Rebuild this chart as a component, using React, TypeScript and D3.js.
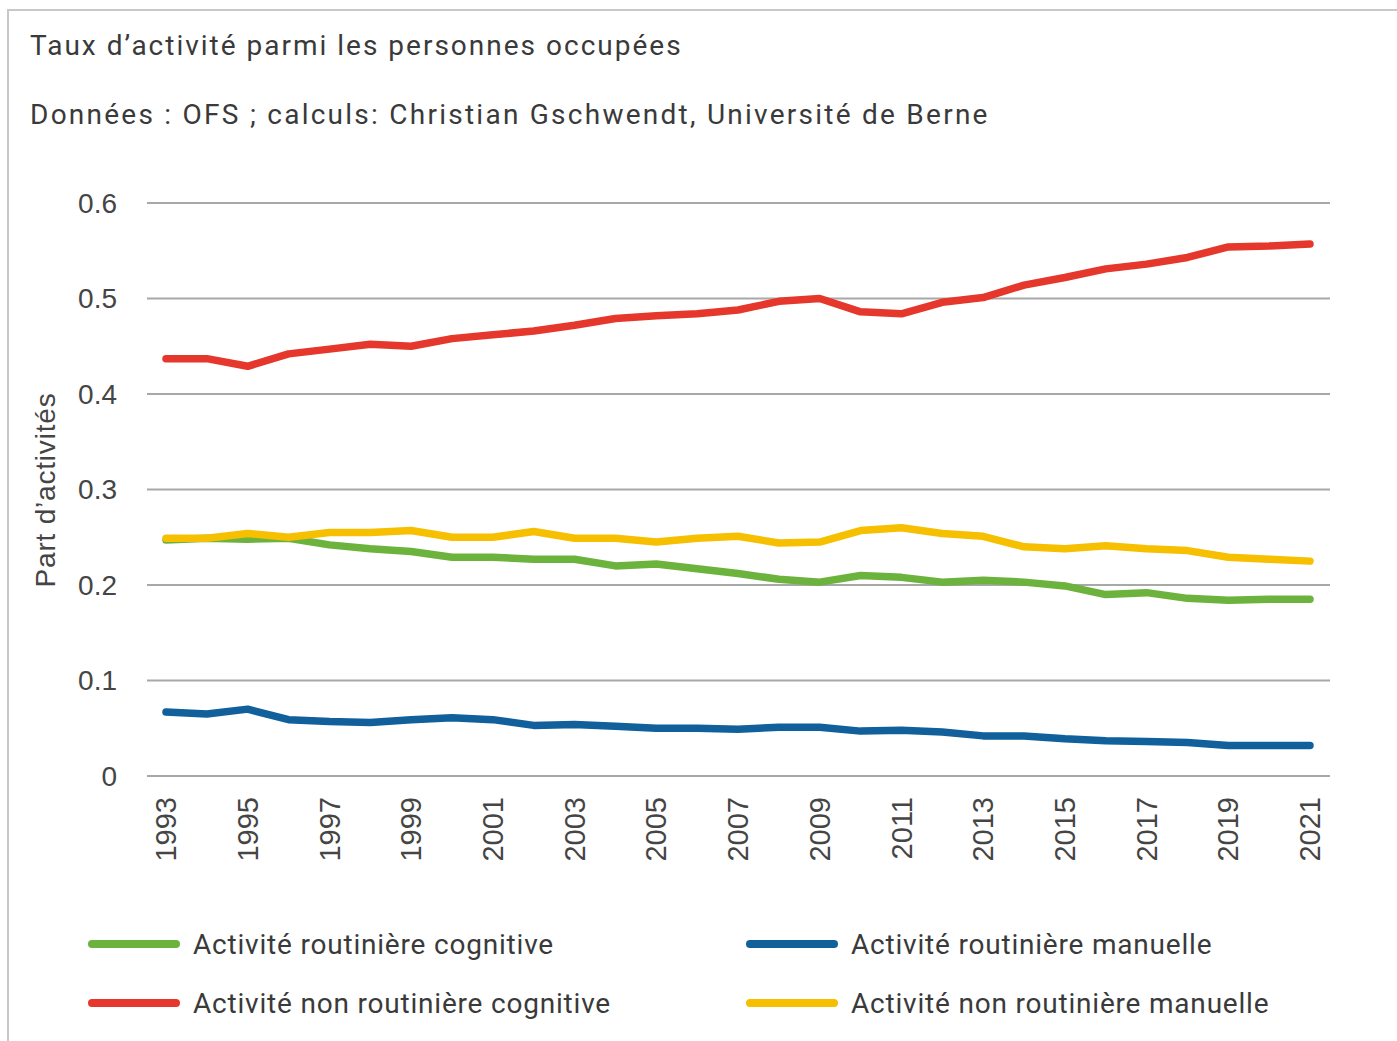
import React from "react";
import * as d3 from "d3";

const years: number[] = d3.range(1993, 2022);
const tickYears: number[] = d3.range(1993, 2022, 2);
const yTicks: number[] = [0, 0.1, 0.2, 0.3, 0.4, 0.5, 0.6];

const routCognitive: number[] = [0.247,0.249,0.248,0.249,0.242,0.238,0.235,0.229,0.229,0.227,0.227,0.220,0.222,0.217,0.212,0.206,0.203,0.210,0.208,0.203,0.205,0.203,0.199,0.190,0.192,0.186,0.184,0.185,0.185];
const routManuelle: number[] = [0.067,0.065,0.070,0.059,0.057,0.056,0.059,0.061,0.059,0.053,0.054,0.052,0.050,0.050,0.049,0.051,0.051,0.047,0.048,0.046,0.042,0.042,0.039,0.037,0.036,0.035,0.032,0.032,0.032];
const nonRoutCognitive: number[] = [0.437,0.437,0.429,0.442,0.447,0.452,0.450,0.458,0.462,0.466,0.472,0.479,0.482,0.484,0.488,0.497,0.500,0.486,0.484,0.496,0.501,0.514,0.522,0.531,0.536,0.543,0.554,0.555,0.557];
const nonRoutManuelle: number[] = [0.249,0.249,0.254,0.250,0.255,0.255,0.257,0.250,0.250,0.256,0.249,0.249,0.245,0.249,0.251,0.244,0.245,0.257,0.260,0.254,0.251,0.240,0.238,0.241,0.238,0.236,0.229,0.227,0.225];

const seriesNames: string[] = [
  "Activité routinière cognitive",
  "Activité routinière manuelle",
  "Activité non routinière cognitive",
  "Activité non routinière manuelle",
];
const seriesColors: string[] = ["#6cb33e", "#115f9b", "#e5372b", "#f6bf00"];
const seriesValues: number[][] = [routCognitive, routManuelle, nonRoutCognitive, nonRoutManuelle];

const title = "Taux d\u2019activité parmi les personnes occupées";
const subtitle = "Données : OFS ; calculs: Christian Gschwendt, Université de Berne";
const yTitle = "Part d\u2019activités";

const W = 1397;
const H = 1041;
const textFont = "Roboto, 'Liberation Sans', sans-serif";
const axisFont = "'Liberation Sans', Arial, sans-serif";

export default function App() {
  const x = d3.scaleLinear().domain([1993, 2021]).range([166, 1310]);
  const y = d3.scaleLinear().domain([0, 0.6]).range([776, 203]);
  const line = d3
    .line<number>()
    .x((_, i) => x(years[i]))
    .y((v) => y(v));

  const legendPos = [
    { lx: 92, ly: 944 },
    { lx: 750, ly: 944 },
    { lx: 92, ly: 1003 },
    { lx: 750, ly: 1003 },
  ];

  return (
    <svg
      width={W}
      height={H}
      style={{ position: "absolute", left: 0, top: 0, background: "#fff" }}
    >
      <rect x={8} y={10} width={W + 20} height={H + 20} fill="#fff" stroke="#c8c8c8" strokeWidth={2} />
      <text x={30} y={55} fontFamily={textFont} fontSize={28} fill="#3a3a3a" letterSpacing={2.0}>
        {title}
      </text>
      <text x={30} y={124} fontFamily={textFont} fontSize={28} fill="#3a3a3a" letterSpacing={2.25}>
        {subtitle}
      </text>

      {yTicks.map((t) => (
        <g key={t}>
          <line x1={147} x2={1330} y1={y(t)} y2={y(t)} stroke="#a8a8a8" strokeWidth={2} />
          <text
            x={117}
            y={y(t)}
            dy="0.35em"
            textAnchor="end"
            fontFamily={axisFont}
            fontSize={28}
            fill="#454545"
          >
            {t === 0 ? "0" : d3.format(".1f")(t)}
          </text>
        </g>
      ))}

      <text
        transform={`translate(55,490) rotate(-90)`}
        textAnchor="middle"
        fontFamily={axisFont}
        fontSize={28}
        letterSpacing={0.8}
        fill="#454545"
      >
        {yTitle}
      </text>

      {tickYears.map((yr) => (
        <text
          key={yr}
          transform={`translate(${x(yr)},797) rotate(-90)`}
          textAnchor="end"
          dy="0.35em"
          fontFamily={axisFont}
          fontSize={29}
          fill="#454545"
        >
          {yr}
        </text>
      ))}

      {seriesValues.map((vals, i) => (
        <path
          key={seriesNames[i]}
          d={line(vals) || ""}
          fill="none"
          stroke={seriesColors[i]}
          strokeWidth={7.5}
          strokeLinejoin="round"
          strokeLinecap="round"
        />
      ))}

      {seriesNames.map((name, i) => (
        <g key={name}>
          <line
            x1={legendPos[i].lx}
            x2={legendPos[i].lx + 84}
            y1={legendPos[i].ly}
            y2={legendPos[i].ly}
            stroke={seriesColors[i]}
            strokeWidth={8}
            strokeLinecap="round"
          />
          <text
            x={legendPos[i].lx + 101}
            y={legendPos[i].ly}
            dy="0.35em"
            fontFamily={textFont}
            fontSize={28}
            fill="#3a3a3a"
            letterSpacing={0.8}
          >
            {name}
          </text>
        </g>
      ))}
    </svg>
  );
}
